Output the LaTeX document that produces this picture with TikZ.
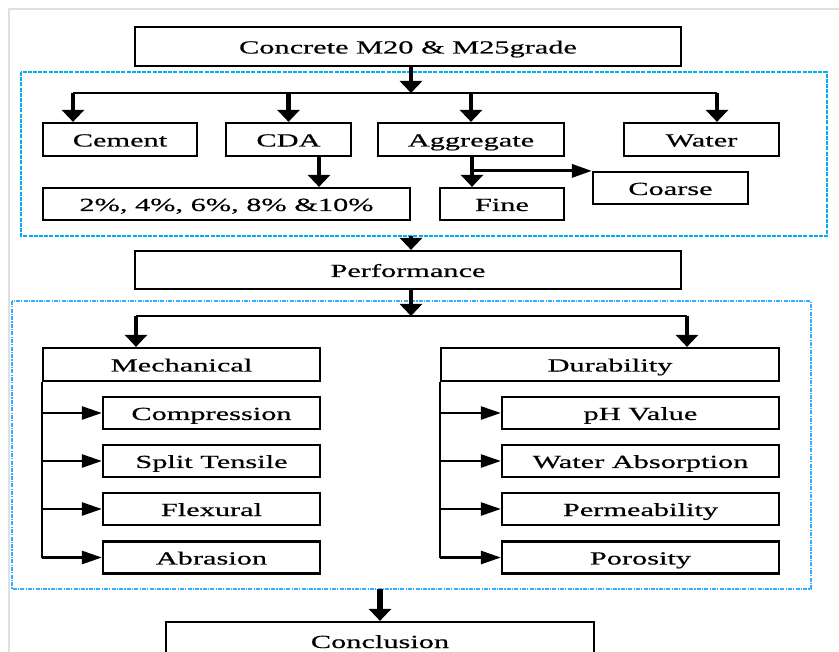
\documentclass[tikz,border=0pt]{standalone}
\usepackage{fontspec}
\setmainfont{Liberation Serif}[FakeStretch=1.64,FakeBold=0.5]
\usetikzlibrary{arrows.meta}
\begin{document}
\begin{tikzpicture}[x=1pt,y=-1pt,
 box/.style={draw, line width=2.2pt, inner sep=0pt, text height=15pt, text depth=1pt, font=\fontsize{18.5}{20}\selectfont},
 bigarrow/.style={line width=4.5pt, -{Triangle[width=22pt,length=12pt]}},
 busline/.style={line width=2.8pt},
 sidearrow/.style={line width=2.5pt, -{Triangle[width=13pt,length=20pt]}},
 cyanbox/.style={draw=cyan, line width=2.2pt, dash pattern=on 4pt off 1.2pt},
 bluebox/.style={draw=blue!40!cyan!80!white, line width=2.2pt, dash pattern=on 4pt off 1.2pt on 1.2pt off 1.2pt}]
\useasboundingbox (0,0) rectangle (839,652);
\fill[white] (0,0) rectangle (839,652);
\draw[black!12, line width=1.5pt] (9,652) -- (9,9) -- (839,9);

% dashed groups
\draw[cyanbox] (21,72) rectangle (827,236);
\draw[bluebox] (12,301) rectangle (811,589);

% boxes
\node[box, minimum width=546pt, minimum height=39pt] (top) at (408,46.5) {Concrete M20 \& M25grade};
\node[box, minimum width=154pt, minimum height=33pt] (cement) at (120,139.5) {Cement};
\node[box, minimum width=125pt, minimum height=33pt] (cda) at (288.5,139.5) {CDA};
\node[box, minimum width=186pt, minimum height=33pt] (agg) at (471,139.5) {Aggregate};
\node[box, minimum width=155pt, minimum height=33pt] (water) at (701.5,139.5) {Water};
\node[box, minimum width=367pt, minimum height=32pt] (pct) at (226.5,204) {2\%, 4\%, 6\%, 8\% \&10\%};
\node[box, minimum width=124pt, minimum height=32pt] (fine) at (502,204) {Fine};
\node[box, minimum width=155pt, minimum height=32pt] (coarse) at (670.5,188) {Coarse};
\node[box, minimum width=546pt, minimum height=38pt] (perf) at (408,270) {Performance};
\node[box, minimum width=277pt, minimum height=33pt] (mech) at (181.5,364.5) {Mechanical};
\node[box, minimum width=338pt, minimum height=33pt] (dur) at (610,364.5) {Durability};
\node[box, minimum width=217pt, minimum height=32pt] (comp) at (211.5,413) {Compression};
\node[box, minimum width=217pt, minimum height=32pt] (split) at (211.5,461) {Split Tensile};
\node[box, minimum width=217pt, minimum height=32pt] (flex) at (211.5,509) {Flexural};
\node[box, minimum width=217pt, minimum height=32pt] (abr) at (211.5,557.5) {Abrasion};
\node[box, minimum width=277pt, minimum height=32pt] (ph) at (640.5,413) {pH Value};
\node[box, minimum width=277pt, minimum height=32pt] (wabs) at (640.5,461) {Water Absorption};
\node[box, minimum width=277pt, minimum height=32pt] (perm) at (640.5,509) {Permeability};
\node[box, minimum width=277pt, minimum height=32pt] (poro) at (640.5,557.5) {Porosity};
\node[box, minimum width=428pt, minimum height=38pt] (concl) at (380,641) {Conclusion};

% top bus
\coordinate (b1) at (411,93);
\coordinate (bL) at (73,93);
\coordinate (bR) at (717,93);
\draw[bigarrow] (top.south -| b1) -- (b1);
\draw[busline] (bL) -- (bR);
\draw[bigarrow] (bL) -- (bL |- cement.north);
\draw[bigarrow] (cda.north |- bL) -- (cda.north);
\draw[bigarrow] (agg.north |- bL) -- (agg.north);
\draw[bigarrow] (bR) -- (bR |- water.north);

% CDA and aggregate
\coordinate (c1) at (319,0);
\coordinate (a1) at (472,0);
\draw[bigarrow] (cda.south -| c1) -- (pct.north -| c1);
\draw[bigarrow] (agg.south -| a1) -- (fine.north -| a1);
\draw[line width=3.2pt, -{Triangle[width=13pt,length=20pt]}] (a1 |- coarse.north) -- (coarse.north west);

% to performance
\coordinate (cb) at (411,236);
\draw[bigarrow] (cb) -- (perf.north -| cb);

% second bus
\coordinate (b2) at (411,316);
\coordinate (b2L) at (136,316);
\coordinate (b2R) at (687,316);
\draw[bigarrow] (perf.south -| b2) -- (b2);
\draw[busline] (b2L) -- (b2R);
\draw[bigarrow] (b2L) -- (b2L |- mech.north);
\draw[bigarrow] (b2R) -- (b2R |- dur.north);

% mechanical branches
\draw[busline] (mech.south west) -- (mech.south west |- abr.west);
\foreach \n in {comp,split,flex,abr}
  \draw[sidearrow] (mech.south west |- \n.west) -- (\n.west);
% durability branches
\draw[busline] (dur.south west) -- (dur.south west |- poro.west);
\foreach \n in {ph,wabs,perm,poro}
  \draw[sidearrow] (dur.south west |- \n.west) -- (\n.west);

% to conclusion
\coordinate (cc) at (380,589);
\draw[bigarrow, line width=5.5pt] (cc) -- (concl.north);
\end{tikzpicture}
\end{document}
